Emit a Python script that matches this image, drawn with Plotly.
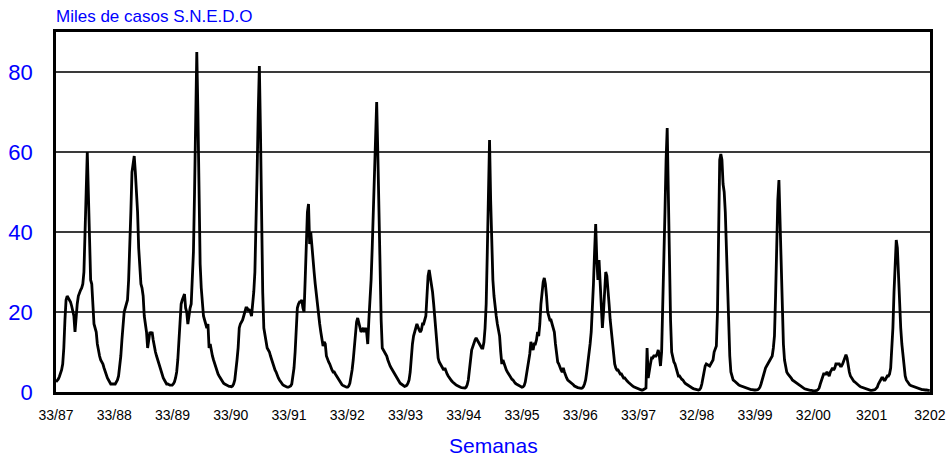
import plotly.graph_objects as go

# Weekly cases (thousands), S.N.E.D.O, season by season (week 33 to week 32)
season_87_88 = [2.5, 2.8, 3.2, 3.8, 4.5, 5.5, 7, 11, 18, 23,
                24, 23.5, 23, 22.5, 21.5, 20.5, 19, 15, 20, 22,
                24, 25, 25.5, 26, 27, 30, 38, 50, 60, 50,
                38, 28, 27, 20, 17, 16, 15, 12, 10, 9,
                8, 7.5, 7, 6, 5, 4, 3.5, 3, 2.5, 2,
                2, 2]
season_88_89 = [2, 2, 2.5, 3, 4, 6, 9, 13, 17, 20,
                21, 22, 23, 28, 35, 45, 55, 58, 59, 55,
                50, 45, 36, 31, 27, 26, 24, 19, 17, 15,
                11, 14, 15, 14.5, 15, 13, 11, 10, 9, 8,
                7, 6, 5, 4, 3.5, 3, 2.5, 2, 2, 1.8,
                1.7, 1.7]
season_89_90 = [1.7, 2, 2.5, 3.5, 5, 8, 13, 19, 22, 23,
                24, 24.5, 21, 20, 17, 20, 21, 22, 27, 35,
                50, 68, 85, 70, 45, 32, 26, 22, 19, 18,
                17, 16, 17, 11, 12, 10, 9, 8, 7, 6,
                5, 4.5, 4, 3.5, 3, 2.5, 2.2, 2, 1.8, 1.6,
                1.5, 1.4]
season_90_91 = [1.4, 1.3, 1.5, 2, 3, 5, 8, 11, 16, 17,
                17.5, 18, 19, 20, 21, 21, 20.5, 20.5, 20, 19,
                22, 25, 30, 40, 55, 70, 81.5, 65, 40, 25,
                16, 14, 13, 11, 10.5, 10, 9, 8, 7, 6,
                5.5, 5, 4, 3.5, 3, 2.5, 2, 1.8, 1.6, 1.4,
                1.3, 1.2]
season_91_92 = [1.2, 1.3, 1.5, 2, 3.5, 6, 10, 17, 21, 22,
                22.5, 22.5, 23, 21, 20, 28, 36, 45, 47, 37,
                40, 36, 33, 30, 27, 24, 22, 20, 17, 15,
                13, 11.5, 12.5, 12, 9, 8, 7.5, 7, 6, 5.5,
                5, 5, 4.5, 4, 3.5, 3, 2.5, 2, 1.8, 1.6,
                1.4, 1.2]
season_92_93 = [1.2, 1.2, 1.5, 2.2, 3.5, 5.5, 8, 12, 16, 17.5,
                18.5, 17, 15.5, 15, 15.5, 16, 15, 16, 15, 12,
                18, 22, 28, 36, 45, 56, 65, 72.5, 60, 45,
                32, 18, 11, 10.5, 10, 9.5, 9, 8, 7, 6.5,
                6, 5.5, 5, 4.5, 4, 3.5, 3, 2.5, 2.2, 2,
                1.8, 1.6]
season_93_94 = [1.4, 1.5, 1.7, 2.2, 3, 5, 9, 12, 14, 15.5,
                16, 17, 16, 15.5, 15, 15.5, 17, 17, 18, 19,
                24, 29, 30.5, 29, 27, 25, 22, 18, 14, 10,
                8.5, 7.5, 7, 6.5, 6, 5.5, 6, 5, 4.5, 4,
                3.5, 3, 2.8, 2.5, 2.2, 2, 1.8, 1.6, 1.4, 1.3,
                1.2, 1.1]
season_94_95 = [1.1, 1.0, 1.0, 1.2, 1.8, 3, 5, 8, 10.5, 11.5,
                12, 13, 13.5, 13, 12.5, 12, 11.5, 11, 11, 12.5,
                16, 22, 35, 50, 63, 48, 35, 28, 24, 21,
                19, 17, 15, 14, 10, 7, 8, 7, 6, 5.5,
                5, 4.5, 4, 3.5, 3.2, 3, 2.5, 2.2, 2, 1.8,
                1.6, 1.4]
season_95_96 = [1.3, 1.2, 1.3, 1.6, 2.5, 4, 6, 8, 9.5, 12.5,
                11, 10.5, 12, 12, 13, 15, 14, 17, 22, 26,
                27.5, 28.5, 27, 24, 20, 19, 18, 18, 17, 16,
                15, 12, 9, 7.5, 7, 6, 5.5, 5, 6, 5,
                4, 3.5, 3, 2.8, 2.5, 2.2, 2, 1.8, 1.5, 1.3,
                1.2, 1.1]
season_96_97 = [1.0, 0.9, 0.9, 1.0, 1.3, 2, 3, 5, 7, 9,
                12, 15, 20, 27, 35, 42, 33, 28, 33, 27,
                20, 16, 20, 27, 30, 29, 24, 22, 18, 15,
                11, 9, 7, 6, 5.5, 5.5, 5, 4.5, 4.5, 4,
                3.5, 3.5, 3, 2.8, 2.5, 2.2, 2, 1.8, 1.5, 1.3,
                1.2, 1.0]
season_97_98 = [0.8, 0.7, 0.6, 0.5, 0.5, 0.5, 0.6, 0.8, 1, 11,
                3.5, 6, 7, 8.5, 8.5, 9, 9, 9, 9.5, 10.5,
                9, 6.5, 10, 20, 32, 45, 58, 66, 50, 32,
                18, 10, 8.5, 7.5, 7, 6, 5.5, 4, 4, 3.5,
                3.2, 3, 2.5, 2.2, 2, 1.8, 1.5, 1.3, 1.1, 1.0,
                0.9, 0.8]
season_98_99 = [0.7, 0.6, 0.5, 0.5, 0.6, 1, 2, 3.5, 5.5, 6.5,
                7, 6.8, 6.5, 6.5, 7, 7.5, 8, 10, 11, 11.5,
                20, 40, 58, 59.5, 58, 52, 50, 45, 36, 25,
                15, 9, 5, 3.5, 3, 2.8, 2.5, 2.2, 2, 1.8,
                1.6, 1.5, 1.3, 1.2, 1.1, 1.0, 0.9, 0.8, 0.8, 0.7,
                0.6, 0.6]
season_99_00 = [0.5, 0.5, 0.5, 0.5, 0.6, 0.8, 1.2, 2, 3, 4.5,
                5.5, 6, 6.5, 7, 7.5, 8, 8.5, 9, 11, 14,
                24, 38, 48, 53, 42, 32, 20, 12, 8, 6,
                5, 4.5, 4.2, 4, 3.5, 3, 2.8, 2.5, 2.2, 2,
                1.8, 1.6, 1.4, 1.2, 1.0, 0.9, 0.8, 0.7, 0.6, 0.5,
                0.5, 0.4]
season_00_01 = [0.4, 0.3, 0.3, 0.3, 0.3, 0.4, 0.6, 1, 2, 3,
                3.5, 4.5, 4.5, 4.5, 5, 4.5, 4, 5, 5.5, 6,
                5.5, 6, 7, 7, 7, 7, 6.5, 6.5, 7, 8,
                8.5, 9.3, 8.5, 6, 5, 4, 3.5, 3, 2.7, 2.5,
                2.2, 2, 1.8, 1.5, 1.3, 1.2, 1, 0.9, 0.8, 0.7,
                0.6, 0.5]
season_01_02 = [0.5, 0.4, 0.4, 0.4, 0.5, 0.6, 0.8, 1.2, 2, 2.5,
                3, 3.5, 3.5, 3, 3, 3.5, 4, 4, 4.5, 6,
                10, 16, 25, 34, 38, 36, 28, 20, 16, 12,
                9, 6, 4, 3, 2.5, 2, 1.8, 1.6, 1.5, 1.3,
                1.2, 1.1, 1, 0.9, 0.8, 0.8, 0.7, 0.6, 0.6, 0.5,
                0.5, 0.5, 0.4, 0.4, 0.4]

tick_labels = ["33/87", "33/88", "33/89", "33/90", "33/91", "33/92", "33/93",
               "33/94", "33/95", "33/96", "33/97", "32/98", "33/99", "32/00",
               "3201", "3202"]
y_ticks = [0, 20, 40, 60, 80]

seasons = [season_87_88, season_88_89, season_89_90, season_90_91, season_91_92,
           season_92_93, season_93_94, season_94_95, season_95_96, season_96_97,
           season_97_98, season_98_99, season_99_00, season_00_01, season_01_02]
values = [v for s in seasons for v in s]
weeks = list(range(len(values)))

weeks_per_year = 52.14
tick_pos = [i * weeks_per_year for i in range(len(tick_labels))]

FONT = "Liberation Sans, Arial, Helvetica, sans-serif"

fig = go.Figure()
fig.add_trace(go.Scatter(x=weeks, y=values, mode="lines",
                         line=dict(color="black", width=2.8),
                         hoverinfo="skip", showlegend=False))

fig.update_layout(
    width=947, height=459, autosize=False,
    margin=dict(l=56, r=17, t=32, b=67, pad=0, autoexpand=False),
    paper_bgcolor="white", plot_bgcolor="white",
    font=dict(family=FONT),
    xaxis=dict(range=[0, len(values) - 0.8], tickvals=tick_pos, ticktext=tick_labels,
               showgrid=False, zeroline=False, ticks="", automargin=False,
               showline=True, linecolor="black", linewidth=2.5, mirror=True,
               tickfont=dict(size=14, color="black", family=FONT),
               ticklabelstandoff=8),
    yaxis=dict(range=[0, 90], tickvals=y_ticks, showgrid=True,
               gridcolor="#3a3a3a", gridwidth=1.5, zeroline=False, ticks="",
               showline=True, linecolor="black", linewidth=2.5, mirror=True,
               automargin=False,
               tickfont=dict(size=22, color="#0000ff", family=FONT),
               ticklabelstandoff=16),
    annotations=[
        dict(text="Miles de casos S.N.E.D.O", xref="paper", yref="paper",
             x=-0.002, y=1.044, xanchor="left", yanchor="middle", showarrow=False,
             font=dict(size=17, color="#0000ff", family=FONT)),
        dict(text="Semanas", xref="paper", yref="paper",
             x=0.5, y=-0.148, xanchor="center", yanchor="middle", showarrow=False,
             font=dict(size=21, color="#0000ff", family=FONT)),
    ],
)

fig.write_html("out.html")
